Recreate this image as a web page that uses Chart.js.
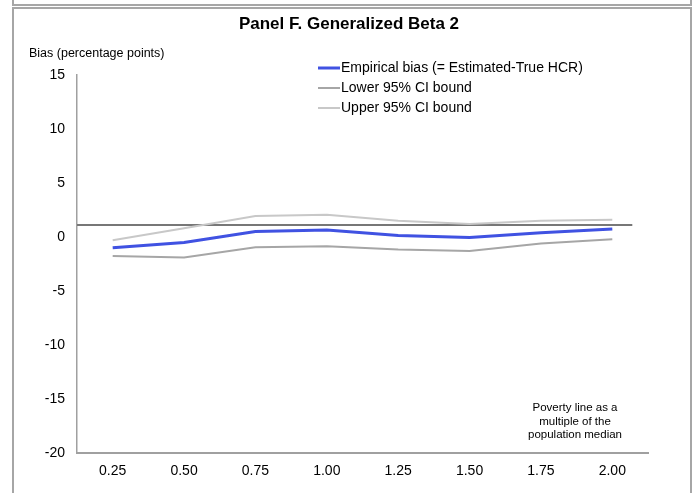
<!DOCTYPE html>
<html>
<head>
<meta charset="utf-8">
<script src="https://cdn.jsdelivr.net/npm/chart.js@4/dist/chart.umd.min.js"></script>
<style>
  html, body { margin: 0; padding: 0; background: #fff; }
  #wrap { position: relative; width: 698px; height: 493px; overflow: hidden; }
  .frame { position: absolute; border: 2px solid #a6a6a6; box-sizing: border-box; }
  #prev { left: 12px; top: -20px; width: 680px; height: 26px; }
  #cur { left: 12px; top: 7px; width: 680px; height: 520px; }
  canvas { position: absolute; left: 0; top: 0; }
</style>
</head>
<body>
<div id="wrap">
  <div class="frame" id="prev"></div>
  <div class="frame" id="cur"></div>
  <canvas id="c" width="698" height="493"></canvas>
</div>
<script>
const categories = ["0.25", "0.50", "0.75", "1.00", "1.25", "1.50", "1.75", "2.00"];
const empiricalBias = [-1.0, -0.5, 0.5, 0.65, 0.15, -0.05, 0.4, 0.75];
const lowerBound = [-1.75, -1.9, -0.95, -0.85, -1.15, -1.3, -0.6, -0.2];
const upperBound = [-0.3, 0.8, 1.95, 2.05, 1.5, 1.2, 1.5, 1.6];
const yTicks = [-20, -15, -10, -5, 0, 5, 10, 15];
const seriesLabels = ["Empirical bias (= Estimated-True HCR)", "Lower 95% CI bound", "Upper 95% CI bound"];
const referenceLevel = 1.1;
const referenceEndIndex = 7.28;
const chartTitle = "Panel F. Generalized Beta 2";
const yAxisTitle = "Bias (percentage points)";
const xAxisNote = ["Poverty line as a", "multiple of the", "population median"];

const FONT = "'Liberation Sans', Arial, Helvetica, sans-serif";

const decorPlugin = {
  id: 'decor',
  beforeDatasetsDraw(chart) {
    const ctx = chart.ctx;
    const x = chart.scales.x, y = chart.scales.y;
    const yp = y.getPixelForValue(referenceLevel);
    ctx.save();
    ctx.strokeStyle = '#777777';
    ctx.lineWidth = 2;
    ctx.beginPath();
    ctx.moveTo(chart.chartArea.left, yp);
    ctx.lineTo(x.getPixelForValue(referenceEndIndex), yp);
    ctx.stroke();
    ctx.restore();
  },
  afterDraw(chart) {
    const ctx = chart.ctx;
    ctx.save();
    // title
    ctx.fillStyle = '#000';
    ctx.font = "bold 17px " + FONT;
    ctx.textAlign = 'center';
    ctx.textBaseline = 'middle';
    ctx.fillText(chartTitle, 349, 24);
    // y axis title
    ctx.font = "12.5px " + FONT;
    ctx.textAlign = 'left';
    ctx.fillText(yAxisTitle, 29, 54);
    // x note
    ctx.textAlign = 'center';
    ctx.font = "11.5px " + FONT;
    xAxisNote.forEach((t, i) => ctx.fillText(t, 575, 408 + i * 13.5));
    // legend
    ctx.font = "14px " + FONT;
    ctx.textAlign = 'left';
    chart.data.datasets.forEach((ds, i) => {
      const ly = 68 + i * 20;
      ctx.strokeStyle = ds.borderColor;
      ctx.lineWidth = ds.borderWidth;
      ctx.beginPath();
      ctx.moveTo(318, ly);
      ctx.lineTo(340, ly);
      ctx.stroke();
      ctx.fillStyle = '#000';
      ctx.fillText(ds.label, 341, ly + 0.5);
    });
    ctx.restore();
  }
};

new Chart(document.getElementById('c'), {
  type: 'line',
  data: {
    labels: categories,
    datasets: [
      { label: seriesLabels[0], data: empiricalBias, borderColor: '#4052E2', borderWidth: 3 },
      { label: seriesLabels[1], data: lowerBound, borderColor: '#a6a6a6', borderWidth: 2 },
      { label: seriesLabels[2], data: upperBound, borderColor: '#c8c8c8', borderWidth: 2 }
    ]
  },
  options: {
    responsive: false,
    animation: false,
    events: [],
    layout: { padding: { left: 0, top: 75, right: 50, bottom: 0 } },
    elements: { point: { radius: 0 }, line: { tension: 0 } },
    plugins: { legend: { display: false }, tooltip: { enabled: false }, title: { display: false } },
    scales: {
      x: {
        offset: true,
        grid: { display: false, drawTicks: false },
        border: { display: true, color: '#a0a0a0', width: 2 },
        ticks: { color: '#000', font: { family: FONT, size: 14 }, padding: 10, maxRotation: 0 },
        afterFit(s) { s.height = 40; }
      },
      y: {
        min: -20, max: 15,
        grid: { display: false, drawTicks: false },
        border: { display: true, color: '#a0a0a0', width: 1.5 },
        afterBuildTicks(s) { s.ticks = yTicks.map(v => ({ value: v })); },
        ticks: { color: '#000', font: { family: FONT, size: 14 }, padding: 12 },
        afterFit(s) { s.width = 77; }
      }
    }
  },
  plugins: [decorPlugin]
});
</script>
</body>
</html>
